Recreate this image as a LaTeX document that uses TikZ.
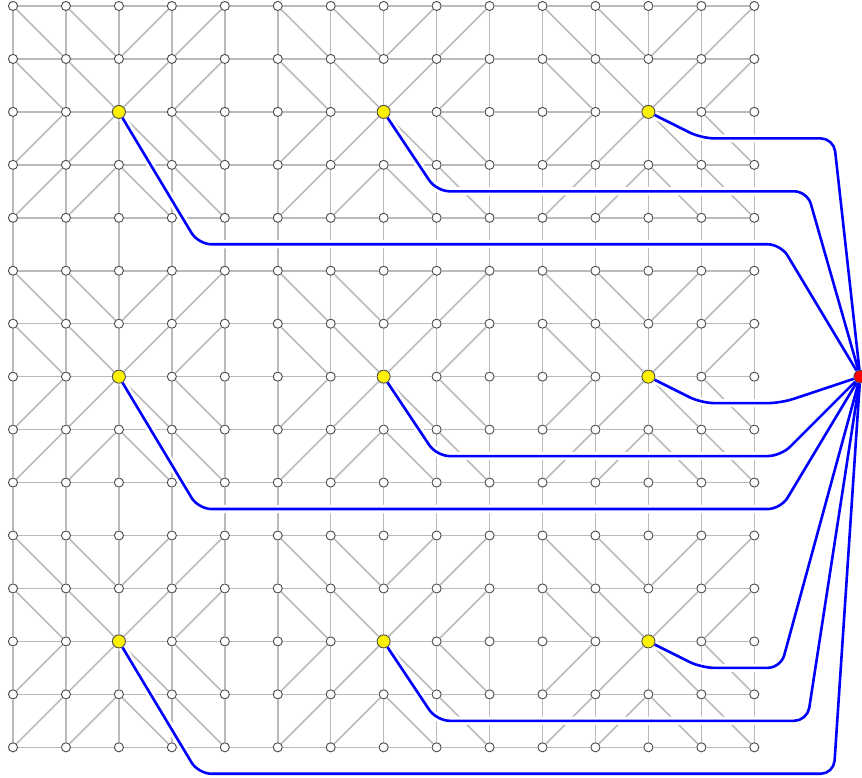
\documentclass[tikz,border=0pt]{standalone}

\begin{document}
\begin{tikzpicture}[
    x=1cm, y=-1cm,
    vertex/.style={circle, draw=black!70, fill=white, line width=0.5pt, inner sep=0pt, minimum size=4.9pt},
    hub/.style={vertex, fill=yellow, minimum size=7pt},
    sink/.style={vertex, fill=red, minimum size=6.8pt},
    link/.style={draw=black!27, line width=0.85pt},
    halo/.style={draw=white, line width=4.4pt, rounded corners=7pt},
    route/.style={draw=blue, line width=1.4pt, rounded corners=7pt}
]
    \useasboundingbox (-0.2455,-0.1133) rectangle (16.034,14.58);

    \foreach \i in {0,...,14} \foreach \j in {0,...,14} {
        \pgfmathtruncatemacro\ci{mod(\i,5)}
        \pgfmathtruncatemacro\cj{mod(\j,5)}
        \ifnum\ci=2 \ifnum\cj=2 \def\kind{hub}\else\def\kind{vertex}\fi\else\def\kind{vertex}\fi
        \node[\kind] (v-\i-\j) at (\i,\j) {};
    }
    \node[sink] (root) at (16,7) {};

    \foreach \i in {0,...,14} \foreach \j in {0,...,13} {
        \pgfmathtruncatemacro\k{\j+1}
        \draw[link] (v-\i-\j) -- (v-\i-\k);
        \draw[link] (v-\j-\i) -- (v-\k-\i);
    }

    \foreach \bx in {0,5,10} \foreach \by in {0,5,10} \foreach \a in {0,1} \foreach \b in {0,1} {
        \pgfmathtruncatemacro\xa{\bx+\a}
        \pgfmathtruncatemacro\xb{\bx+\a+1}
        \pgfmathtruncatemacro\xc{\bx+\a+2}
        \pgfmathtruncatemacro\xd{\bx+\a+3}
        \pgfmathtruncatemacro\ya{\by+\b}
        \pgfmathtruncatemacro\yb{\by+\b+1}
        \pgfmathtruncatemacro\yc{\by+\b+2}
        \pgfmathtruncatemacro\yd{\by+\b+3}
        \draw[link] (v-\xa-\ya) -- (v-\xb-\yb);
        \draw[link] (v-\xc-\yc) -- (v-\xd-\yd);
        \draw[link] (v-\xd-\ya) -- (v-\xc-\yb);
        \draw[link] (v-\xb-\yc) -- (v-\xa-\yd);
    }

    \foreach \pass in {halo, route} {
        \draw[\pass] (v-2-2) -- (3.5,4.5) -- (14.5,4.5) -- (root);
        \draw[\pass] (v-7-2) -- (8,3.5) -- (15,3.5) -- (root);
        \draw[\pass] (v-12-2) -- (13,2.5) -- (15.5,2.5) -- (root);
        \draw[\pass] (v-2-7) -- (3.5,9.5) -- (14.5,9.5) -- (root);
        \draw[\pass] (v-7-7) -- (8,8.5) -- (14.5,8.5) -- (root);
        \draw[\pass] (v-12-7) -- (13,7.5) -- (14.5,7.5) -- (root);
        \draw[\pass] (v-2-12) -- (3.5,14.5) -- (15.5,14.5) -- (root);
        \draw[\pass] (v-7-12) -- (8,13.5) -- (15,13.5) -- (root);
        \draw[\pass] (v-12-12) -- (13,12.5) -- (14.5,12.5) -- (root);
    }
\end{tikzpicture}
\end{document}
